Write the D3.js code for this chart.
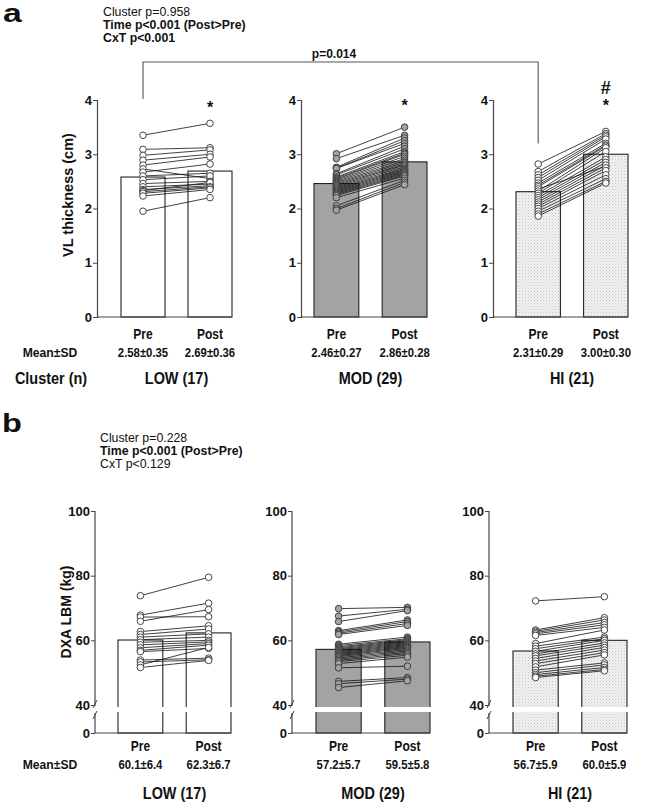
<!DOCTYPE html>
<html><head><meta charset="utf-8">
<script src="https://cdn.jsdelivr.net/npm/d3@7"></script>
<style>
html,body{margin:0;padding:0;background:#fff;}
svg{display:block;}
</style></head>
<body>
<script>
// ---------------- DATA ----------------
const clusters = ["LOW (17)", "MOD (29)", "HI (21)"];
const timeLabels = ["Pre", "Post"];
const vlTicks = [0, 1, 2, 3, 4];
const lbmTicksUpper = [40, 60, 80, 100];
const lbmTicksLower = [0];

const vlMeanPre = [2.58, 2.46, 2.31];
const vlMeanPost = [2.69, 2.86, 3.00];
const vlSDPre = [0.35, 0.27, 0.29];
const vlSDPost = [0.36, 0.28, 0.30];

const lbmMeanPre = [60.1, 57.2, 56.7];
const lbmMeanPost = [62.3, 59.5, 60.0];
const lbmSDPre = [6.4, 5.7, 5.9];
const lbmSDPost = [6.7, 5.8, 5.9];

// individual VL thickness (cm), paired by index
const vlPreLOW  = [3.35, 3.09, 2.98, 2.89, 2.80, 2.73, 2.67, 2.60, 2.53, 2.46, 2.40, 2.35, 2.33, 2.31, 2.28, 2.23, 1.95];
const vlPostLOW = [3.57, 3.12, 3.08, 3.00, 2.95, 2.55, 2.82, 2.65, 2.60, 2.50, 2.45, 2.42, 2.48, 2.40, 2.38, 2.35, 2.20];
const vlPreMOD  = [3.01, 2.92, 2.76, 2.74, 2.74, 2.64, 2.62, 2.58, 2.56, 2.54, 2.52, 2.50, 2.48, 2.46, 2.44, 2.42, 2.40, 2.38, 2.36, 2.34, 2.32, 2.30, 2.28, 2.26, 2.24, 2.20, 2.05, 2.00, 1.97];
const vlPostMOD = [3.50, 3.35, 3.30, 3.25, 3.20, 3.15, 3.10, 3.05, 3.02, 3.00, 2.96, 2.92, 2.88, 2.85, 2.82, 2.80, 2.77, 2.74, 2.72, 2.70, 2.68, 2.66, 2.64, 2.62, 2.60, 2.56, 2.52, 2.48, 2.44];
const vlPreHI   = [2.82, 2.68, 2.62, 2.57, 2.52, 2.47, 2.43, 2.40, 2.36, 2.32, 2.28, 2.24, 2.20, 2.16, 2.12, 2.08, 2.04, 2.00, 1.95, 1.90, 1.86];
const vlPostHI  = [3.42, 3.38, 3.35, 3.32, 3.28, 3.20, 3.17, 3.15, 2.78, 3.12, 3.05, 2.95, 2.90, 2.85, 2.80, 2.75, 2.70, 2.62, 2.55, 2.50, 2.47];

// individual DXA LBM (kg), paired by index
const lbmPreLOW  = [73.8, 67.8, 67.2, 65.9, 62.7, 61.8, 61.0, 60.2, 59.4, 58.6, 57.7, 56.9, 56.5, 53.9, 53.3, 52.4, 51.6];
const lbmPostLOW = [79.5, 71.5, 67.3, 69.5, 64.5, 63.5, 62.0, 61.0, 60.0, 59.5, 59.0, 58.5, 57.5, 54.5, 54.0, 57.8, 53.8];
const lbmPreMOD  = [69.8, 67.5, 65.8, 63.0, 62.6, 62.2, 61.8, 58.8, 58.4, 58.0, 57.7, 57.4, 57.1, 56.8, 56.5, 56.2, 55.9, 55.6, 55.3, 55.0, 54.6, 54.2, 53.8, 53.4, 52.8, 51.5, 47.3, 46.6, 45.4];
const lbmPostMOD = [70.2, 69.6, 69.2, 66.3, 65.8, 65.2, 64.6, 61.0, 60.5, 60.2, 59.9, 59.6, 59.3, 59.0, 58.7, 58.4, 58.1, 57.8, 57.5, 57.1, 56.7, 56.3, 55.9, 55.4, 54.8, 52.0, 48.5, 48.0, 47.5];
const lbmPreHI   = [72.2, 63.2, 62.8, 62.4, 62.0, 61.5, 59.0, 58.2, 57.4, 56.6, 55.8, 55.2, 54.4, 53.6, 52.8, 51.8, 50.8, 50.0, 49.4, 48.9, 48.5];
const lbmPostHI  = [73.5, 67.0, 66.3, 65.5, 64.8, 64.0, 63.2, 61.0, 60.5, 60.0, 59.2, 58.5, 57.8, 57.0, 56.2, 55.5, 53.0, 52.4, 51.6, 51.0, 50.6];

// ---------------- DRAW ----------------
const W = 651, H = 802;
const svg = d3.select("body").append("svg").attr("width", W).attr("height", H);
const defs = svg.append("defs");
const pat = defs.append("pattern").attr("id", "dots").attr("patternUnits", "userSpaceOnUse")
  .attr("width", 3).attr("height", 3);
pat.append("rect").attr("width", 3).attr("height", 3).attr("fill", "#f3f3f3");
pat.append("rect").attr("x", 0).attr("y", 0).attr("width", 1).attr("height", 1).attr("fill", "#c4c4c4");
pat.append("rect").attr("x", 1.5).attr("y", 1.5).attr("width", 1).attr("height", 1).attr("fill", "#d2d2d2");

const SANS = "'Liberation Sans',Arial,sans-serif";
const INK = "#222";
const AX = "#444";

const barFill = ["#ffffff", "#a3a3a3", "url(#dots)"];
const ptFill = ["#ffffff", "#a3a3a3", "#ffffff"];

function fmt2(v){ return d3.format(".2f")(v); }
function fmt1(v){ return d3.format(".1f")(v); }

// condensed bold text (emulates a narrow face)
function ntext(parent, x, y, txt, size, sx){
  return parent.append("text")
    .attr("transform", `translate(${x},${y}) scale(${sx},1)`)
    .attr("text-anchor", "middle").attr("font-family", SANS).attr("font-weight", "bold")
    .attr("font-size", size).attr("fill", "#111").text(txt);
}

// ---------- Panel a ----------
const aAxisX = [97, 301, 493];
const aBarStart = [121, 314, 516];
const aBarEnd = [232, 427, 628];
const yA = d3.scaleLinear().domain([0, 4]).range([317, 100]);
const vlPre = [vlPreLOW, vlPreMOD, vlPreHI];
const vlPost = [vlPostLOW, vlPostMOD, vlPostHI];

const aCenters = [];
clusters.forEach((c, i) => {
  const g = svg.append("g");
  const x = d3.scaleBand().domain(timeLabels).range([aBarStart[i], aBarEnd[i]]).paddingInner(0.343).paddingOuter(0);
  aCenters.push([x("Pre") + x.bandwidth()/2, x("Post") + x.bandwidth()/2]);
  const means = [vlMeanPre[i], vlMeanPost[i]];
  g.selectAll("rect.bar").data(timeLabels).join("rect")
    .attr("x", d => x(d)).attr("width", x.bandwidth())
    .attr("y", (d, k) => yA(means[k])).attr("height", (d, k) => yA(0) - yA(means[k]))
    .attr("fill", barFill[i]).attr("stroke", INK).attr("stroke-width", 1.1);
  const ya = d3.axisLeft(yA).tickValues(vlTicks).tickFormat(d3.format("d")).tickSize(4);
  const ag = g.append("g").attr("transform", `translate(${aAxisX[i]},0)`).call(ya);
  ag.select(".domain").attr("stroke", AX).attr("stroke-width", 1.2);
  ag.selectAll(".tick line").attr("stroke", AX);
  ag.selectAll(".tick text").attr("font-family", SANS).attr("font-weight", "bold").attr("font-size", 13).attr("fill", "#111").attr("x", -5);
  g.append("line").attr("x1", aAxisX[i]).attr("x2", aBarEnd[i]).attr("y1", yA(0)).attr("y2", yA(0))
    .attr("stroke", AX).attr("stroke-width", 1.2);
  const cx0 = x("Pre") + x.bandwidth()/2, cx1 = x("Post") + x.bandwidth()/2;
  g.selectAll("line.pair").data(vlPre[i]).join("line")
    .attr("x1", cx0).attr("x2", cx1)
    .attr("y1", d => yA(d)).attr("y2", (d, k) => yA(vlPost[i][k]))
    .attr("stroke", "#111").attr("stroke-width", 0.8);
  g.selectAll("circle.pre").data(vlPre[i]).join("circle")
    .attr("cx", cx0).attr("cy", d => yA(d)).attr("r", 3.3)
    .attr("fill", ptFill[i]).attr("stroke", "#333").attr("stroke-width", 0.9);
  g.selectAll("circle.post").data(vlPost[i]).join("circle")
    .attr("cx", cx1).attr("cy", d => yA(d)).attr("r", 3.3)
    .attr("fill", ptFill[i]).attr("stroke", "#333").attr("stroke-width", 0.9);
  timeLabels.forEach((t, k) => {
    const cx = x(t) + x.bandwidth()/2;
    ntext(g, cx, 339, t, 14, 0.86);
    const m = k === 0 ? vlMeanPre[i] : vlMeanPost[i];
    const s = k === 0 ? vlSDPre[i] : vlSDPost[i];
    ntext(g, cx, 357, fmt2(m) + "\u00B1" + fmt2(s), 13.5, 0.84);
  });
  ntext(g, (aBarStart[i] + aBarEnd[i]) / 2, 384, c, 17, 0.85);
});

// panel a annotations
svg.append("text").attr("transform", "translate(3,22) scale(1.35,1)").attr("font-family", SANS).attr("font-weight", "bold")
  .attr("font-size", 25).attr("fill", "#111").text("a");
svg.append("text").attr("x", 103).attr("y", 16).attr("font-family", SANS).attr("font-size", 12.3).attr("fill", "#111").text("Cluster p=0.958");
svg.append("text").attr("x", 103).attr("y", 29).attr("font-family", SANS).attr("font-weight", "bold").attr("font-size", 12.3).attr("fill", "#111").text("Time p<0.001 (Post>Pre)");
svg.append("text").attr("x", 103).attr("y", 42).attr("font-family", SANS).attr("font-weight", "bold").attr("font-size", 12.3).attr("fill", "#111").text("CxT p<0.001");
svg.append("path")
  .attr("d", `M${aCenters[0][0]},${yA(4) - 1}V62H${aCenters[2][0]}V${yA(3.2)}`)
  .attr("fill", "none").attr("stroke", "#555").attr("stroke-width", 1.1);
svg.append("text").attr("x", 334).attr("y", 58).attr("text-anchor", "middle").attr("font-family", SANS)
  .attr("font-weight", "bold").attr("font-size", 12).attr("fill", "#111").text("p=0.014");
svg.append("text").attr("x", aCenters[0][1]).attr("y", 113).attr("text-anchor", "middle").attr("font-family", SANS)
  .attr("font-weight", "bold").attr("font-size", 16).attr("fill", "#111").text("*");
svg.append("text").attr("x", aCenters[1][1]).attr("y", 111).attr("text-anchor", "middle").attr("font-family", SANS)
  .attr("font-weight", "bold").attr("font-size", 16).attr("fill", "#111").text("*");
svg.append("text").attr("x", aCenters[2][1]).attr("y", 94).attr("text-anchor", "middle").attr("font-family", SANS)
  .attr("font-weight", "bold").attr("font-size", 18).attr("fill", "#111").text("#");
svg.append("text").attr("x", aCenters[2][1]).attr("y", 111).attr("text-anchor", "middle").attr("font-family", SANS)
  .attr("font-weight", "bold").attr("font-size", 16).attr("fill", "#111").text("*");
ntext(svg, 50, 357, "Mean\u00B1SD", 13.5, 0.9);
ntext(svg, 51, 384, "Cluster (n)", 17, 0.85);
svg.append("text").attr("transform", "translate(73,195) rotate(-90)").attr("text-anchor", "middle")
  .attr("font-family", SANS).attr("font-weight", "bold").attr("font-size", 14.5).attr("fill", "#111").text("VL thickness (cm)");

// ---------- Panel b ----------
const bAxisX = [95, 292, 489];
const bBarStart = [118, 316, 513];
const bBarEnd = [231, 430, 627];
const yBu = d3.scaleLinear().domain([40, 100]).range([705, 511]);
const yBl = d3.scaleLinear().domain([0, 40]).range([733, 711]);
const gapTop = 707, gapBot = 712;
const lbmPre = [lbmPreLOW, lbmPreMOD, lbmPreHI];
const lbmPost = [lbmPostLOW, lbmPostMOD, lbmPostHI];

clusters.forEach((c, i) => {
  const g = svg.append("g");
  const x = d3.scaleBand().domain(timeLabels).range([bBarStart[i], bBarEnd[i]]).paddingInner(0.343).paddingOuter(0);
  const means = [lbmMeanPre[i], lbmMeanPost[i]];
  g.selectAll("rect.bar").data(timeLabels).join("rect")
    .attr("x", d => x(d)).attr("width", x.bandwidth())
    .attr("y", (d, k) => yBu(means[k])).attr("height", (d, k) => yBl(0) - yBu(means[k]))
    .attr("fill", barFill[i]).attr("stroke", INK).attr("stroke-width", 1.1);
  g.append("rect").attr("x", bAxisX[i] - 1).attr("y", gapTop).attr("width", bBarEnd[i] - bAxisX[i] + 3)
    .attr("height", gapBot - gapTop).attr("fill", "#fff");
  const yu = d3.axisLeft(yBu).tickValues(lbmTicksUpper).tickFormat(d3.format("d")).tickSize(4).tickSizeOuter(0);
  const ag = g.append("g").attr("transform", `translate(${bAxisX[i]},0)`).call(yu);
  ag.select(".domain").attr("stroke", AX).attr("stroke-width", 1.2).attr("d", `M0,${yBu(100)}V${gapTop - 1}`);
  ag.selectAll(".tick line").attr("stroke", AX);
  ag.selectAll(".tick text").attr("font-family", SANS).attr("font-weight", "bold").attr("font-size", 13).attr("fill", "#111").attr("x", -5);
  const yl = d3.axisLeft(yBl).tickValues(lbmTicksLower).tickFormat(d3.format("d")).tickSize(4).tickSizeOuter(0);
  const lg = g.append("g").attr("transform", `translate(${bAxisX[i]},0)`).call(yl);
  lg.select(".domain").attr("stroke", AX).attr("stroke-width", 1.2).attr("d", `M0,${gapBot + 1}V${yBl(0)}`);
  lg.selectAll(".tick line").attr("stroke", AX);
  lg.selectAll(".tick text").attr("font-family", SANS).attr("font-weight", "bold").attr("font-size", 13).attr("fill", "#111").attr("x", -5);
  g.append("line").attr("x1", bAxisX[i] - 2).attr("y1", gapTop + 1).attr("x2", bAxisX[i] + 2).attr("y2", gapTop - 7)
    .attr("stroke", AX).attr("stroke-width", 1);
  g.append("line").attr("x1", bAxisX[i] - 2).attr("y1", gapBot + 7).attr("x2", bAxisX[i] + 2).attr("y2", gapBot - 1)
    .attr("stroke", AX).attr("stroke-width", 1);
  g.append("line").attr("x1", bAxisX[i]).attr("x2", bBarEnd[i]).attr("y1", yBl(0)).attr("y2", yBl(0))
    .attr("stroke", AX).attr("stroke-width", 1.2);
  const cx0 = x("Pre") + x.bandwidth()/2, cx1 = x("Post") + x.bandwidth()/2;
  g.selectAll("line.pair").data(lbmPre[i]).join("line")
    .attr("x1", cx0).attr("x2", cx1)
    .attr("y1", d => yBu(d)).attr("y2", (d, k) => yBu(lbmPost[i][k]))
    .attr("stroke", "#111").attr("stroke-width", 0.8);
  g.selectAll("circle.pre").data(lbmPre[i]).join("circle")
    .attr("cx", cx0).attr("cy", d => yBu(d)).attr("r", 3.3)
    .attr("fill", ptFill[i]).attr("stroke", "#333").attr("stroke-width", 0.9);
  g.selectAll("circle.post").data(lbmPost[i]).join("circle")
    .attr("cx", cx1).attr("cy", d => yBu(d)).attr("r", 3.3)
    .attr("fill", ptFill[i]).attr("stroke", "#333").attr("stroke-width", 0.9);
  timeLabels.forEach((t, k) => {
    const cx = x(t) + x.bandwidth()/2;
    ntext(g, cx, 751, t, 14, 0.86);
    const m = k === 0 ? lbmMeanPre[i] : lbmMeanPost[i];
    const s = k === 0 ? lbmSDPre[i] : lbmSDPost[i];
    ntext(g, cx, 769, fmt1(m) + "\u00B1" + fmt1(s), 13.5, 0.84);
  });
  ntext(g, (bBarStart[i] + bBarEnd[i]) / 2, 799, c, 17, 0.85);
});

svg.append("text").attr("transform", "translate(2,432) scale(1.3,1)").attr("font-family", SANS).attr("font-weight", "bold")
  .attr("font-size", 25).attr("fill", "#111").text("b");
svg.append("text").attr("x", 100).attr("y", 442).attr("font-family", SANS).attr("font-size", 12.3).attr("fill", "#111").text("Cluster p=0.228");
svg.append("text").attr("x", 100).attr("y", 455).attr("font-family", SANS).attr("font-weight", "bold").attr("font-size", 12.3).attr("fill", "#111").text("Time p<0.001 (Post>Pre)");
svg.append("text").attr("x", 100).attr("y", 468).attr("font-family", SANS).attr("font-size", 12.3).attr("fill", "#111").text("CxT p<0.129");
ntext(svg, 50, 769, "Mean\u00B1SD", 13.5, 0.9);
svg.append("text").attr("transform", "translate(71,612) rotate(-90)").attr("text-anchor", "middle")
  .attr("font-family", SANS).attr("font-weight", "bold").attr("font-size", 14).attr("fill", "#111").text("DXA LBM (kg)");
</script>
</body></html>
